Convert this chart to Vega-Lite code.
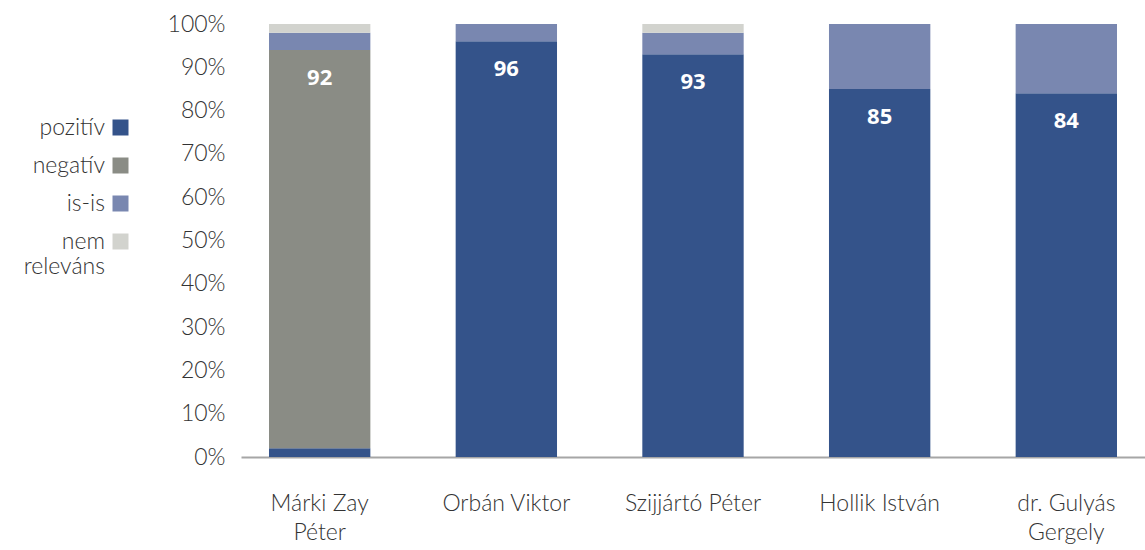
{
  "$schema": "https://vega.github.io/schema/vega-lite/v6.json",
  "width": 904,
  "height": 433,
  "autosize": {"type": "none"},
  "padding": {"left": 241, "top": 24, "right": 0, "bottom": 93},
  "background": "white",
  "config": {
    "view": {"stroke": null},
    "font": "Lato"
  },
  "data": {
    "values": [
      {"name": "Márki Zay Péter", "cat": "pozitív", "order": 1, "value": 2},
      {"name": "Márki Zay Péter", "cat": "negatív", "order": 2, "value": 92},
      {"name": "Márki Zay Péter", "cat": "is-is", "order": 3, "value": 4},
      {"name": "Márki Zay Péter", "cat": "nem releváns", "order": 4, "value": 2},
      {"name": "Orbán Viktor", "cat": "pozitív", "order": 1, "value": 96},
      {"name": "Orbán Viktor", "cat": "negatív", "order": 2, "value": 0},
      {"name": "Orbán Viktor", "cat": "is-is", "order": 3, "value": 4},
      {"name": "Orbán Viktor", "cat": "nem releváns", "order": 4, "value": 0},
      {"name": "Szijjártó Péter", "cat": "pozitív", "order": 1, "value": 93},
      {"name": "Szijjártó Péter", "cat": "negatív", "order": 2, "value": 0},
      {"name": "Szijjártó Péter", "cat": "is-is", "order": 3, "value": 5},
      {"name": "Szijjártó Péter", "cat": "nem releváns", "order": 4, "value": 2},
      {"name": "Hollik István", "cat": "pozitív", "order": 1, "value": 85},
      {"name": "Hollik István", "cat": "negatív", "order": 2, "value": 0},
      {"name": "Hollik István", "cat": "is-is", "order": 3, "value": 15},
      {"name": "Hollik István", "cat": "nem releváns", "order": 4, "value": 0},
      {"name": "dr. Gulyás Gergely", "cat": "pozitív", "order": 1, "value": 84},
      {"name": "dr. Gulyás Gergely", "cat": "negatív", "order": 2, "value": 0},
      {"name": "dr. Gulyás Gergely", "cat": "is-is", "order": 3, "value": 16},
      {"name": "dr. Gulyás Gergely", "cat": "nem releváns", "order": 4, "value": 0}
    ]
  },
  "transform": [
    {"stack": "value", "groupby": ["name"], "sort": [{"field": "order", "order": "ascending"}], "as": ["v0", "v1"]}
  ],
  "encoding": {
    "x": {
      "field": "name",
      "type": "nominal",
      "sort": ["Márki Zay Péter", "Orbán Viktor", "Szijjártó Péter", "Hollik István", "dr. Gulyás Gergely"],
      "scale": {"paddingInner": 0.457, "paddingOuter": 0.15},
      "axis": {
        "title": null,
        "labelAngle": 0,
        "ticks": false,
        "domainColor": "#a6a6a6",
        "domainWidth": 2,
        "labelFont": "Lato",
        "labelFontWeight": 300,
        "labelFontSize": 23,
        "labelColor": "#333333",
        "labelPadding": 35,
        "labelLineHeight": 29,
        "labelExpr": "datum.label == 'Márki Zay Péter' ? ['Márki Zay', 'Péter'] : datum.label == 'dr. Gulyás Gergely' ? ['dr. Gulyás', 'Gergely'] : datum.label"
      }
    }
  },
  "layer": [
    {
      "mark": {"type": "bar"},
      "encoding": {
        "y": {
          "field": "v0",
          "type": "quantitative",
          "scale": {"domain": [0, 100], "nice": false},
          "axis": {
            "title": null,
            "grid": false,
            "domain": false,
            "ticks": false,
            "values": [0, 10, 20, 30, 40, 50, 60, 70, 80, 90, 100],
            "labelOverlap": false,
            "labelFont": "Lato",
            "labelFontWeight": 300,
            "labelFontSize": 23,
            "labelColor": "#333333",
            "labelPadding": 16,
            "labelExpr": "datum.value + '%'"
          }
        },
        "y2": {"field": "v1"},
        "color": {
          "field": "cat",
          "type": "nominal",
          "sort": ["pozitív", "negatív", "is-is", "nem releváns"],
          "scale": {
            "domain": ["pozitív", "negatív", "is-is", "nem releváns"],
            "range": ["#34538a", "#8a8c85", "#7987b0", "#d2d3ce"]
          },
          "legend": {
            "title": null,
            "orient": "none",
            "legendX": -132,
            "legendY": 92,
            "padding": 0,
            "symbolType": "square",
            "symbolSize": 256,
            "symbolStrokeWidth": 0,
            "symbolOpacity": 1,
            "labelFont": "Lato",
            "labelFontWeight": 300,
            "labelFontSize": 23,
            "labelColor": "#333333",
            "labelAlign": "right",
            "labelOffset": -27,
            "labelLimit": 200,
            "rowPadding": 14,
            "labelExpr": "datum.label == 'nem releváns' ? ['nem', 'releváns'] : datum.label"
          }
        }
      }
    },
    {
      "transform": [{"filter": "datum.value > 50"}],
      "mark": {"type": "text", "color": "white", "font": "Open Sans", "fontWeight": "bold", "fontSize": 22, "baseline": "middle", "dy": 28},
      "encoding": {
        "y": {"field": "v1", "type": "quantitative"},
        "text": {"field": "value", "type": "quantitative"}
      }
    }
  ]
}
